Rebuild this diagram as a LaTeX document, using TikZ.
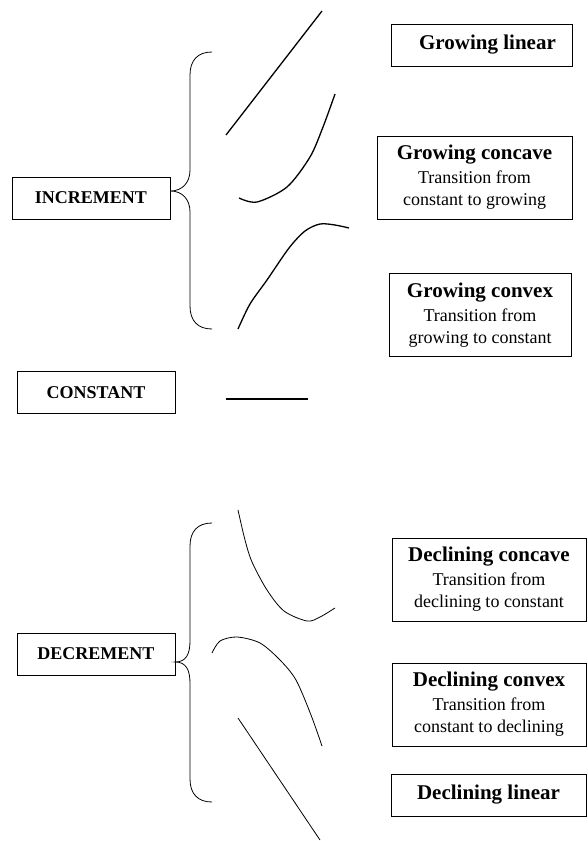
\documentclass[tikz,border=0pt]{standalone}
\usepackage{fontspec}
\setmainfont{Liberation Serif}
\usetikzlibrary{positioning}
\newcommand{\kind}[1]{{\bfseries\fontsize{21}{25}\selectfont #1}}
\tikzset{
  catbox/.style={draw, line width=0.8pt, font=\bfseries\fontsize{18}{22}\selectfont,
                 minimum width=158pt, minimum height=42pt, inner sep=0pt},
  kindbox/.style={draw, line width=0.8pt, align=center, font=\fontsize{18}{22}\selectfont,
                  inner sep=0pt, minimum height=83pt},
  linbox/.style={kindbox, minimum height=42pt},
  risecurve/.style={line width=1.3pt},
  fallcurve/.style={line width=0.8pt},
  curly/.style={line width=0.8pt},
}

\begin{document}
\begin{tikzpicture}[x=1pt, y=-1pt]
\useasboundingbox (0,0) rectangle (587,841);
\node[catbox] (inc) at (91,198) {INCREMENT};
\node[catbox] (con) at (96,392.5) {CONSTANT};
\node[catbox] (dec) at (96,654) {DECREMENT};
\node[linbox, minimum width=181pt] (glin) at (481.5,45) {\hspace*{12pt}\kind{Growing linear}};
\node[kindbox, minimum width=195pt] (gcc) at (474.5,177.5) {\kind{Growing concave}\\[2pt] Transition from\\ constant to growing};
\node[kindbox, minimum width=182pt] (gcv) at (480,315) {\kind{Growing convex}\\[2pt] Transition from\\ growing to constant};
\node[kindbox, minimum width=194pt] (dcc) at (489,579.5) {\kind{Declining concave}\\[2pt] Transition from\\ declining to constant};
\node[kindbox, minimum width=194pt] (dcv) at (489,704.5) {\kind{Declining convex}\\[2pt] Transition from\\ constant to declining};
\node[linbox, minimum width=195pt] (dlin) at (488.5,795) {\kind{Declining linear}};
\draw[curly] (212,52) .. controls (198,52) and (190,60) .. (190,75) -- (190,170)
  .. controls (190,183) and (182,191) .. ([yshift=7pt]inc.east)
  .. controls (182,191) and (190,199) .. (190,212) -- (190,306)
  .. controls (190,321) and (198,329) .. (212,329);
\draw[curly] (212,523) .. controls (198,523) and (190,531) .. (190,546) -- (190,641)
  .. controls (190,654) and (186,662) .. ([yshift=-8pt]dec.east)
  .. controls (186,662) and (190,670) .. (190,683) -- (190,779)
  .. controls (190,794) and (198,802) .. (212,802);
\draw[risecurve] (226,135) -- (322,11);
\draw[risecurve] plot[smooth] coordinates {(239,198) (257,202) (287,187) (310,157) (323,127) (335,94)};
\draw[risecurve] plot[smooth] coordinates {(238,329) (250,304) (267,280) (289,248) (305,231) (320,224) (335,225) (349,228)};
\draw[risecurve] (226,399) -- (308,399);
\draw[fallcurve] plot[smooth] coordinates {(238,510) (245,540) (252,562) (267,590) (284,611) (307,621) (320,617) (335,608)};
\draw[fallcurve] plot[smooth] coordinates {(212,653) (220,641) (237,637) (260,643) (280,660) (296,680) (311,715) (322,746)};
\draw[fallcurve] (238,718) -- (320,840);
\end{tikzpicture}
\end{document}
